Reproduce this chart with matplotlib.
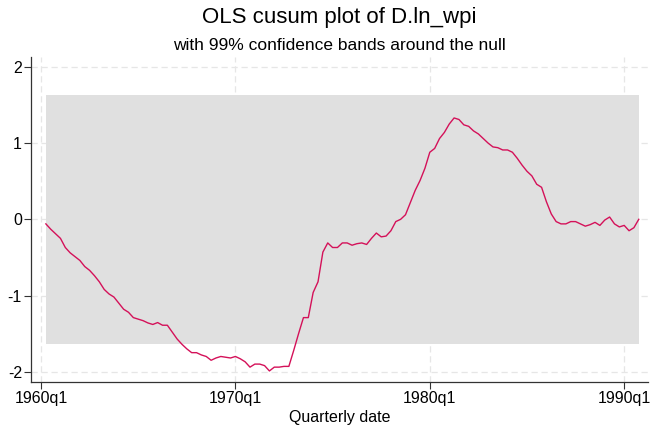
import matplotlib
matplotlib.use("Agg")
import matplotlib.pyplot as plt
import numpy as np

plt.rcParams['font.family'] = ['Liberation Sans', 'DejaVu Sans']
plt.rcParams['axes.unicode_minus'] = False

# quarter index: 0 = 1960q1
start_index = 1  # first observation 1960q2
cusum = [
    -0.06, -0.13, -0.19, -0.25, -0.37, -0.44, -0.49, -0.54, -0.62, -0.67,
    -0.74, -0.82, -0.92, -0.98, -1.02, -1.10, -1.18, -1.22, -1.29, -1.31,
    -1.33, -1.36, -1.38, -1.355, -1.39, -1.39, -1.48, -1.57, -1.64, -1.70,
    -1.75, -1.75, -1.78, -1.80, -1.85, -1.82, -1.80, -1.81, -1.82, -1.80,
    -1.83, -1.87, -1.94, -1.90, -1.90, -1.92, -1.99, -1.94, -1.94, -1.93,
    -1.93, -1.72, -1.50, -1.29, -1.29, -0.96, -0.82, -0.43, -0.31, -0.37,
    -0.37, -0.31, -0.31, -0.34, -0.32, -0.31, -0.33, -0.25, -0.18, -0.23,
    -0.22, -0.15, -0.03, 0.00, 0.06, 0.22, 0.38, 0.51, 0.67, 0.88,
    0.93, 1.06, 1.14, 1.25, 1.33, 1.31, 1.24, 1.22, 1.16, 1.12,
    1.06, 1.00, 0.95, 0.94, 0.91, 0.91, 0.88, 0.80, 0.71, 0.63,
    0.57, 0.46, 0.42, 0.23, 0.07, -0.03, -0.06, -0.06, -0.03, -0.03,
    -0.06, -0.09, -0.07, -0.04, -0.08, -0.01, 0.03, -0.06, -0.10, -0.08,
    -0.15, -0.11, 0.00,
]
band = 1.63
x_ticks = [0, 40, 80, 120]
x_tick_labels = ["1960q1", "1970q1", "1980q1", "1990q1"]
y_ticks = [-2, -1, 0, 1, 2]

t = np.arange(start_index, start_index + len(cusum))

fig = plt.figure(figsize=(6.51, 4.29), dpi=100)
ax = fig.add_axes([31/651, 1-382/429, (648-31)/651, (382-57)/429])

grid_kw = dict(color='#e6e6e6', lw=0.9, ls=(0, (5, 3)), zorder=0)
for v in y_ticks:
    ax.axhline(v, **grid_kw)
for v in x_ticks:
    ax.axvline(v, **grid_kw)

ax.fill_between(t, -band, band, color='#e0e0e0', lw=0, zorder=1)
ax.plot(t, cusum, color='#d41159', lw=1.0, zorder=3)

ax.set_xlim(-2.06, 124.9)
ax.set_ylim(-2.135, 2.13)
ax.set_xticks(x_ticks)
ax.set_xticklabels(x_tick_labels)
ax.set_yticks(y_ticks)
ax.set_yticklabels([str(v) for v in y_ticks])
ax.tick_params(direction='out', length=5, width=0.8, color='#333333',
               labelsize=11.5, pad=1.5)
for s in ['top', 'right']:
    ax.spines[s].set_visible(False)
for s in ['left', 'bottom']:
    ax.spines[s].set_color('#333333')
    ax.spines[s].set_linewidth(0.9)

ax.set_xlabel("Quarterly date", fontsize=11.5, labelpad=3)

cx = (31 + 648) / 2 / 651
fig.text(cx, 1 - 18/429, "OLS cusum plot of D.ln_wpi", ha='center', va='center', fontsize=16)
fig.text(cx, 1 - 46/429, "with 99% confidence bands around the null", ha='center', va='center', fontsize=12.5)

fig.savefig("out.png", dpi=100)
